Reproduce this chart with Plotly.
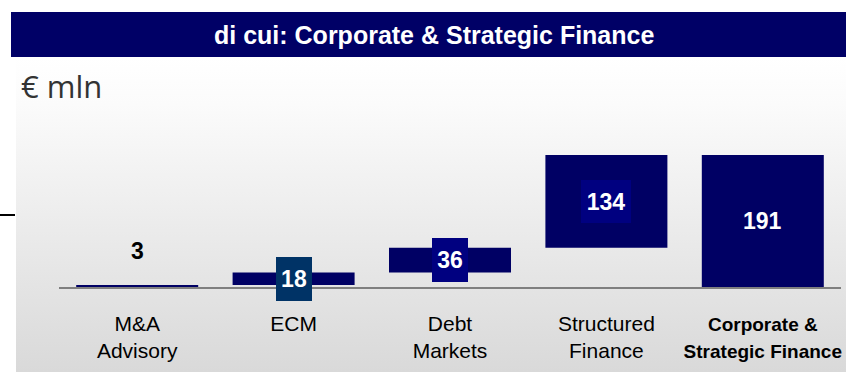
import base64
import plotly.graph_objects as go

# Revenue breakdown, € mln
categories = ["M&A<br>Advisory", "ECM", "Debt<br>Markets", "Structured<br>Finance",
              "<b>Corporate &<br>Strategic Finance</b>"]
components = [3, 18, 36, 134]
total = sum(components)  # 191

# Waterfall bases: each component starts where the previous one ended
bases, running = [], 0
for v in components:
    bases.append(running)
    running += v
values = components + [total]
bases = bases + [0]

W, H = 846, 372
FONT = "Liberation Sans, Arial, sans-serif"
NAVY = "#000066"
BAR = "#000064"


def px_x(p):
    return p / W


def px_y(p):
    return 1 - p / H


# the long bold total label is set a touch smaller so it fits at the right edge
tick_text = categories[:-1] + [f'<span style="font-size:19px">{categories[-1]}</span>']

fig = go.Figure()
fig.add_trace(go.Bar(
    x=list(range(len(values))), y=values, base=bases,
    marker=dict(color=BAR, line=dict(width=0)),
    hoverinfo="skip", showlegend=False,
))

# value labels placed at the middle of each bar
label_bg = ["rgba(0,0,0,0)", "#003366", "#000080", "#000080", "rgba(0,0,0,0)"]
label_w = [None, 36, 36, 50, None]
for i, (b, v) in enumerate(zip(bases, values)):
    if i == 0:
        fig.add_annotation(x=i, y=b + v, text=f"<b>{v}</b>", showarrow=False,
                           yanchor="bottom", yshift=19,
                           font=dict(family=FONT, size=23, color="#000000"))
        continue
    ann = dict(x=i, y=b + v / 2, text=f"<b>{v}</b>", showarrow=False,
               yanchor="middle",
               font=dict(family=FONT, size=23, color="#ffffff"),
               bgcolor=label_bg[i], borderpad=0, borderwidth=0)
    if label_w[i]:
        ann.update(width=label_w[i], height=44 if i < 3 else 43)
    fig.add_annotation(**ann)

# soft grey background gradient behind the chart area
svg = ('<svg xmlns="http://www.w3.org/2000/svg" width="830" height="315" '
       'preserveAspectRatio="none"><defs><linearGradient id="g" x1="0" y1="0" x2="0" y2="1">'
       '<stop offset="0" stop-color="#ffffff"/><stop offset="0.15" stop-color="#fbfbfb"/>'
       '<stop offset="1" stop-color="#d9d9d9"/></linearGradient></defs>'
       '<rect width="830" height="315" fill="url(#g)"/></svg>')
bg_src = "data:image/svg+xml;base64," + base64.b64encode(svg.encode()).decode()
fig.add_layout_image(dict(source=bg_src, xref="paper", yref="paper",
                          x=px_x(16), y=px_y(57), sizex=px_x(W - 16), sizey=(372 - 57) / H,
                          xanchor="left", yanchor="top", sizing="stretch", layer="below"))

# title band
fig.add_shape(type="rect", xref="paper", yref="paper",
              x0=px_x(11), x1=1, y0=px_y(57), y1=px_y(12),
              fillcolor=NAVY, line=dict(width=0), layer="below")
fig.add_annotation(xref="paper", yref="paper", x=px_x(434), y=px_y(35),
                   xanchor="center", yanchor="middle",
                   text="<b>di cui: Corporate & Strategic Finance</b>", showarrow=False,
                   font=dict(family=FONT, size=25, color="#ffffff"))
fig.add_annotation(xref="paper", yref="paper", x=px_x(19), y=px_y(86),
                   xanchor="left", yanchor="middle", text="€ mln", showarrow=False,
                   font=dict(family="Open Sans, sans-serif", size=31, color="#333333"))

# short rule on the left edge
fig.add_shape(type="line", xref="paper", yref="paper",
              x0=0, x1=px_x(15), y0=px_y(215), y1=px_y(215),
              line=dict(color="#000000", width=2))

fig.update_layout(
    width=W, height=H, margin=dict(l=0, r=0, t=0, b=0),
    paper_bgcolor="#ffffff", plot_bgcolor="rgba(0,0,0,0)",
    bargap=0.22,
    xaxis=dict(domain=[px_x(59), px_x(841)], range=[-0.5, 4.5],
               tickmode="array", tickvals=list(range(len(categories))), ticktext=tick_text,
               showline=True, linecolor="#7f7f7f", linewidth=1.5, showgrid=False,
               zeroline=False, ticks="", ticklabelstandoff=17, ticklabeloverflow="allow",
               automargin=False,
               tickfont=dict(family=FONT, size=21, color="#000000")),
    yaxis=dict(domain=[(H - 287) / H, 0.7], range=[0, 254], visible=False),
)

fig.write_html("out.html")
